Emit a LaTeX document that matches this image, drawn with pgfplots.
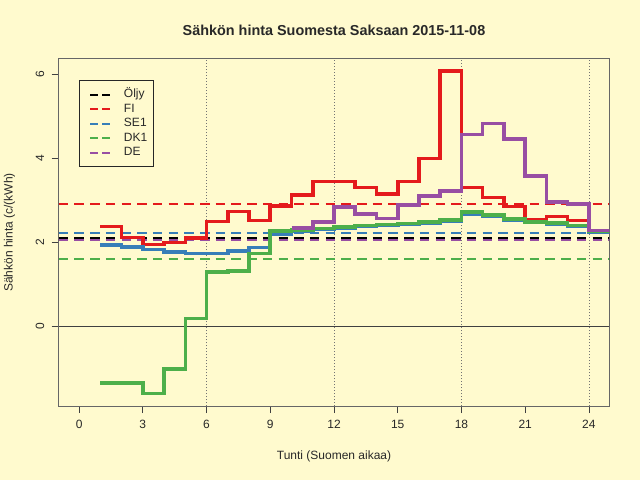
\documentclass[border=0pt]{standalone}
\usepackage{fontspec}
\setmainfont{Liberation Sans}
\usepackage{pgfplots}
\pgfplotsset{compat=1.18}
\definecolor{bgc}{RGB}{255,250,206}
\definecolor{cred}{RGB}{228,26,28}
\definecolor{cblue}{RGB}{55,126,184}
\definecolor{cgreen}{RGB}{77,175,74}
\definecolor{cpurple}{RGB}{152,78,163}
\definecolor{txt}{RGB}{40,40,40}
\begin{document}
\begin{tikzpicture}
\useasboundingbox (0,0) rectangle (640pt,480pt);
\fill[bgc] (0,0) rectangle (640pt,480pt);
\node[font=\bfseries\fontsize{14.4}{16}\selectfont, text=txt] at (334pt,449.3pt) {Sähkön hinta Suomesta Saksaan 2015-11-08};
\node[font=\fontsize{12}{14}\selectfont, text=txt] at (334pt,23.3pt) {Tunti (Suomen aikaa)};
\node[font=\fontsize{12}{14}\selectfont, text=txt, rotate=90] at (9.5pt,247.5pt) {Sähkön hinta (c/(kWh)};
\begin{axis}[
  at={(58.7pt,74pt)}, anchor=south west,
  width=550.6pt, height=347.3pt, scale only axis,
  xmin=-0.96, xmax=24.96, ymin=-1.906, ymax=6.366,
  axis line style={draw=black!60, line width=0.8pt},
  xtick={0,3,...,24}, ytick={0,2,4,6},
  tick align=outside, xtick pos=bottom, ytick pos=left,
  major tick length=7pt,
  tick style={black!75, line width=0.8pt},
  /pgf/number format/assume math mode=true,
  ticklabel style={font=\fontsize{12}{14}\selectfont, text=txt},
  xticklabel shift=4pt,
  yticklabel style={rotate=90, anchor=south},
  yticklabel shift=4pt,
  legend style={at={(axis description cs:0.0374,0.9387)}, anchor=north west,
    draw=black!85, line width=0.6pt, fill=bgc, font=\fontsize{12}{14}\selectfont,
    inner xsep=5.5pt, inner ysep=7pt, row sep=0pt,
    nodes={text height=9pt, text depth=2.5pt, inner ysep=1.5pt, inner xsep=0pt, text=txt},
    /tikz/every odd column/.append style={column sep=12.7pt}},
  legend image code/.code={\draw[#1] (0pt,0pt) -- (20pt,0pt); \path (-4.2pt,0pt);},
  legend cell align=left,
]
% grid
\addplot[forget plot, black!55, line width=0.7pt, dash pattern=on 1pt off 2pt] coordinates {(6,-1.906) (6,6.366)};
\addplot[forget plot, black!55, line width=0.7pt, dash pattern=on 1pt off 2pt] coordinates {(12,-1.906) (12,6.366)};
\addplot[forget plot, black!55, line width=0.7pt, dash pattern=on 1pt off 2pt] coordinates {(18,-1.906) (18,6.366)};
\addplot[forget plot, black!55, line width=0.7pt, dash pattern=on 1pt off 2pt] coordinates {(24,-1.906) (24,6.366)};
\addplot[forget plot, black!75, line width=0.8pt] coordinates {(-0.96,0) (24.96,0)};
% mean lines
\addplot[forget plot, cpurple, line width=2pt, dash pattern=on 9.5pt off 6.2pt] coordinates {(-0.96,2.055) (24.96,2.055)};
\addplot[forget plot, black, line width=2pt, dash pattern=on 9.5pt off 6.2pt] coordinates {(-0.96,2.09) (24.96,2.09)};
\addplot[forget plot, cred, line width=2pt, dash pattern=on 9.5pt off 6.2pt] coordinates {(-0.96,2.91) (24.96,2.91)};
\addplot[forget plot, cblue, line width=2pt, dash pattern=on 9.5pt off 6.2pt] coordinates {(-0.96,2.22) (24.96,2.22)};
\addplot[forget plot, cgreen, line width=2pt, dash pattern=on 9.5pt off 6.2pt] coordinates {(-0.96,1.59) (24.96,1.59)};
% FI
\addplot[forget plot, const plot, cred, line width=3.6pt] coordinates {
(1,2.37) (2,2.11) (3,1.94) (4,1.99) (5,2.09) (6,2.49) (7,2.73) (8,2.51) (9,2.86) (10,3.12)
(11,3.44) (12,3.44) (13,3.30) (14,3.14) (15,3.44) (16,3.99) (17,6.07) (18,3.30) (19,3.06)
(20,2.85) (21,2.53) (22,2.61) (23,2.51) (24,2.25) (25,2.25)};
% SE1
\addplot[forget plot, const plot, cblue, line width=3.6pt] coordinates {
(1,1.93) (2,1.88) (3,1.82) (4,1.76) (5,1.73) (6,1.73) (7,1.79) (8,1.87) (9,2.18) (10,2.26)
(11,2.30) (12,2.34) (13,2.37) (14,2.40) (15,2.42) (16,2.45) (17,2.50) (18,2.66) (19,2.62)
(20,2.53) (21,2.46) (22,2.43) (23,2.37) (24,2.24) (25,2.24)};
% DK1
\addplot[forget plot, const plot, cgreen, line width=3.6pt] coordinates {
(1,-1.36) (2,-1.36) (3,-1.61) (4,-1.03) (5,0.18) (6,1.29) (7,1.31) (8,1.73) (9,2.26) (10,2.28)
(11,2.32) (12,2.36) (13,2.39) (14,2.42) (15,2.44) (16,2.47) (17,2.52) (18,2.71) (19,2.64)
(20,2.55) (21,2.48) (22,2.45) (23,2.39) (24,2.25) (25,2.25)};
% DE
\addplot[forget plot, const plot, cpurple, line width=3.6pt] coordinates {
(10,2.34) (11,2.48) (12,2.84) (13,2.67) (14,2.56) (15,2.88) (16,3.09) (17,3.22) (18,4.56)
(19,4.82) (20,4.46) (21,3.57) (22,2.96) (23,2.90) (24,2.27) (25,2.27)};
\addlegendimage{black, line width=2pt, dash pattern=on 8pt off 4pt}
\addlegendimage{cred, line width=2pt, dash pattern=on 8pt off 4pt}
\addlegendimage{cblue, line width=2pt, dash pattern=on 8pt off 4pt}
\addlegendimage{cgreen, line width=2pt, dash pattern=on 8pt off 4pt}
\addlegendimage{cpurple, line width=2pt, dash pattern=on 8pt off 4pt}
\legend{Öljy,FI,SE1,DK1,DE}
\end{axis}
\end{tikzpicture}
\end{document}
